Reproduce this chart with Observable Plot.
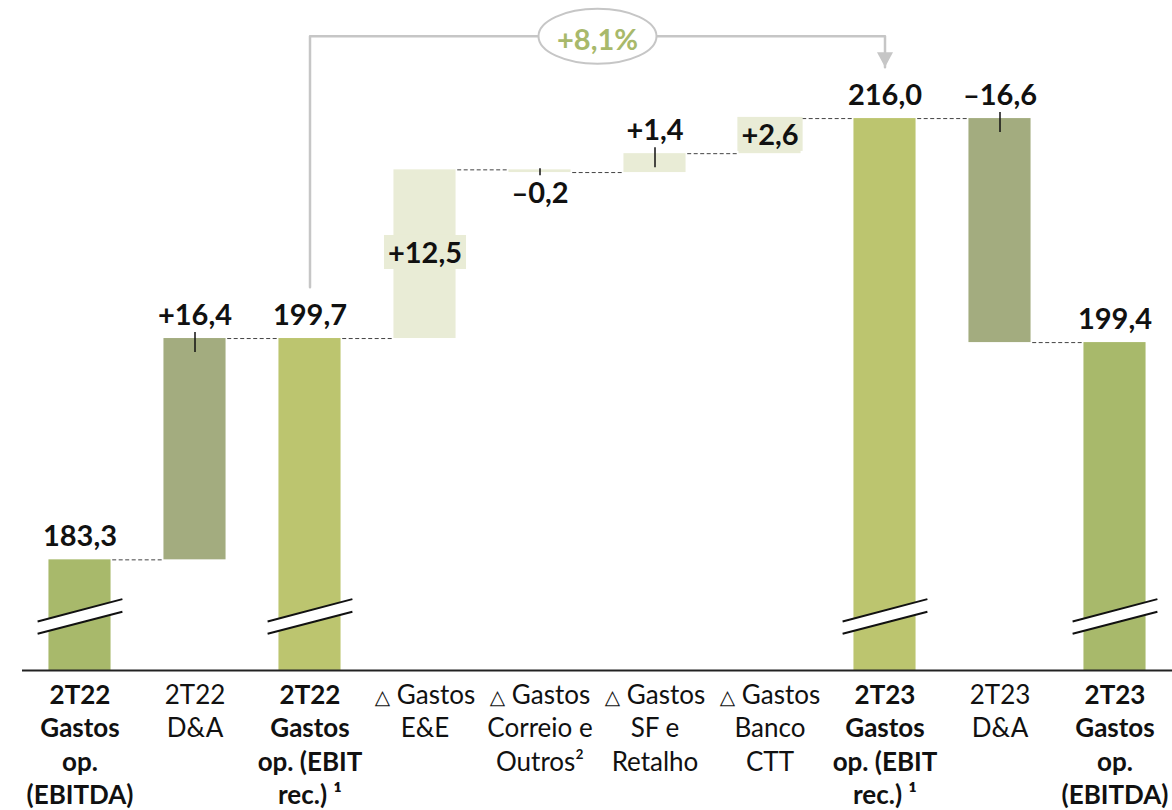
<!DOCTYPE html>
<html>
<head>
<meta charset="utf-8">
<script src="https://cdn.jsdelivr.net/npm/d3@7"></script>
<script src="https://cdn.jsdelivr.net/npm/@observablehq/plot@0.6"></script>
<style>
  html, body { margin: 0; padding: 0; background: #fff; }
  #chart svg { display: block; }
</style>
</head>
<body>
<div id="chart"></div>
<script>
// ---------- data ----------
const categories = [
  "2T22 Gastos op. (EBITDA)", "2T22 D&A", "2T22 Gastos op. (EBIT rec.)",
  "Δ Gastos E&E", "Δ Gastos Correio e Outros", "Δ Gastos SF e Retalho", "Δ Gastos Banco CTT",
  "2T23 Gastos op. (EBIT rec.)", "2T23 D&A", "2T23 Gastos op. (EBITDA)"
];
const tickLabels = [
  "2T22\nGastos\nop.\n(EBITDA)",
  "2T22\nD&A",
  "2T22\nGastos\nop. (EBIT\nrec.) ¹",
  "△ Gastos\nE&E",
  "△ Gastos\nCorreio e\nOutros²",
  "△ Gastos\nSF e\nRetalho",
  "△ Gastos\nBanco\nCTT",
  "2T23\nGastos\nop. (EBIT\nrec.) ¹",
  "2T23\nD&A",
  "2T23\nGastos\nop.\n(EBITDA)"
];
const values = [183.3, 16.4, 199.7, 12.5, -0.2, 1.4, 2.6, 216.0, -16.6, 199.4];
const kinds  = ["ebitda", "da", "ebit", "delta", "delta", "delta", "delta", "ebit", "da", "ebitda"];
const growthLabel = "+8,1%";

// ---------- presentation config ----------
const labelPlacement = ["above", "above", "above", "inside", "below", "above", "inside", "above", "above", "above"];
const colors = { ebitda: "#A8B96B", ebit: "#BCC56F", da: "#A3AC7F", delta: "#E9ECD6" };
const yDomain = [175.1, 224.75];
const axisBreakAt = 179.1;
const halfBar = 0.27;
const font = "Lato, 'Open Sans', sans-serif";
const grey = "#c6c6c6";
const valueSize = 29;

// ---------- waterfall ----------
let running = 0;
const rows = values.map((v, i) => {
  const k = kinds[i];
  const isTotal = k === "ebitda" || k === "ebit";
  const start = isTotal ? yDomain[0] : running;
  const end = isTotal ? v : running + v;
  running = end;
  return {
    i, k, v, isTotal, start, end,
    top: Math.max(start, end), bottom: Math.min(start, end),
    place: labelPlacement[i],
    label: isTotal ? v.toFixed(1).replace(".", ",")
                   : (v > 0 ? "+" : "–") + Math.abs(v).toFixed(1).replace(".", ",")
  };
});
const totals = rows.filter(d => d.isTotal);
const above = rows.filter(d => d.place === "above");
const below = rows.filter(d => d.place === "below");
const inside = rows.filter(d => d.place === "inside");
const tickedAbove = above.filter(d => !d.isTotal);

// annotation bracket between the two EBIT totals
const fromIdx = 2, toIdx = 7;
const bracketGap = 3.8;
const bracketY = Math.max(values[fromIdx], values[toIdx]) + 6.1;
const bracket = [
  { x: fromIdx, y: values[fromIdx] + bracketGap },
  { x: fromIdx, y: bracketY },
  { x: toIdx, y: bracketY },
  { x: toIdx, y: values[toIdx] + bracketGap }
];

// ---------- custom symbols ----------
const breakBand = { draw(ctx) {
  ctx.moveTo(-42.4, 4.9); ctx.lineTo(42.4, -17.4); ctx.lineTo(42.4, -4.8); ctx.lineTo(-42.4, 17.3); ctx.closePath();
}};
const breakLines = { draw(ctx) {
  ctx.moveTo(-42.4, 4.9); ctx.lineTo(42.4, -17.4);
  ctx.moveTo(-42.4, 17.3); ctx.lineTo(42.4, -4.8);
}};
const arrowDown = { draw(ctx) {
  ctx.moveTo(-8, -15); ctx.lineTo(8, -15); ctx.lineTo(0, 0); ctx.closePath();
}};
const ellipse = { draw(ctx) {
  const a = 59, b = 27.5, k = 0.5523;
  ctx.moveTo(a, 0);
  ctx.bezierCurveTo(a, b * k, a * k, b, 0, b);
  ctx.bezierCurveTo(-a * k, b, -a, b * k, -a, 0);
  ctx.bezierCurveTo(-a, -b * k, -a * k, -b, 0, -b);
  ctx.bezierCurveTo(a * k, -b, a, -b * k, a, 0);
  ctx.closePath();
}};

const axisCommon = {
  tickFormat: i => tickLabels[i], tickSize: 0, tickPadding: 10,
  fontSize: 26, lineHeight: 1.28, fill: "#111", fontFamily: font, label: null
};
const valueText = { fontSize: valueSize, fontWeight: "bold", fill: "#111", fontFamily: font };

const chart = Plot.plot({
  width: 1172, height: 810,
  marginTop: 0, marginRight: 0, marginBottom: 140, marginLeft: 22,
  style: { background: "#fff", fontFamily: font, overflow: "visible" },
  x: { domain: [-0.5, 9.5] },
  y: { domain: yDomain, axis: null },
  color: { type: "identity" },
  marks: [
    // bracket annotation
    Plot.line(bracket, { x: "x", y: "y", stroke: grey, strokeWidth: 2.5 }),
    Plot.dot([bracket[3]], { x: "x", y: "y", symbol: arrowDown, fill: grey, stroke: "none" }),
    Plot.dot([{ x: (fromIdx + toIdx) / 2, y: bracketY }], { x: "x", y: "y", symbol: ellipse, fill: "#fff", stroke: grey, strokeWidth: 2 }),
    Plot.text([growthLabel], { x: () => (fromIdx + toIdx) / 2, y: () => bracketY, text: d => d, dy: 4, lineAnchor: "middle",
      fontSize: 29, fontWeight: "bold", fill: colors.ebitda, fontFamily: font }),
    // connectors
    Plot.link(rows.slice(0, -1), { x1: d => d.i + halfBar + 0.01, x2: d => d.i + 1 - halfBar - 0.01, y1: "end", y2: "end",
      stroke: "#444", strokeWidth: 1, strokeDasharray: "4,2.5" }),
    // bars
    Plot.rect(rows, { x1: d => d.i - halfBar, x2: d => d.i + halfBar, y1: "start", y2: "end", fill: d => colors[d.k] }),
    // axis break marks
    Plot.dot(totals, { x: "i", y: () => axisBreakAt, symbol: breakBand, fill: "#fff", stroke: "none" }),
    Plot.dot(totals, { x: "i", y: () => axisBreakAt, symbol: breakLines, fill: "none", stroke: "#111", strokeWidth: 2 }),
    // baseline
    Plot.ruleY([yDomain[0]], { stroke: "#222", strokeWidth: 2 }),
    // label ticks
    Plot.ruleX(tickedAbove, { x: "i", y1: "top", y2: "top", insetTop: -6, insetBottom: -14, stroke: "#111", strokeWidth: 1.5 }),
    Plot.ruleX(below, { x: "i", y1: "top", y2: "top", insetTop: -1, insetBottom: -6, stroke: "#111", strokeWidth: 1.5 }),
    // value labels
    Plot.text(above, { x: "i", y: "top", text: "label", lineAnchor: "bottom", dy: -14, ...valueText }),
    Plot.text(below, { x: "i", y: "bottom", text: "label", lineAnchor: "top", dy: 10, ...valueText }),
    Plot.text(inside, { x: "i", y: d => (d.start + d.end) / 2, text: "label", lineAnchor: "middle", ...valueText }),
    // category axis
    Plot.axisX({ ...axisCommon, ticks: rows.filter(d => d.isTotal).map(d => d.i), fontWeight: "bold" }),
    Plot.axisX({ ...axisCommon, ticks: rows.filter(d => !d.isTotal).map(d => d.i), fontWeight: "normal" })
  ]
});

document.getElementById("chart").appendChild(chart);

// small outlined triangle before "Gastos"
d3.select(chart).selectAll("tspan").each(function () {
  const t = this.textContent;
  if (t.startsWith("△")) {
    this.textContent = "";
    d3.select(this).append("tspan").attr("font-size", 20).attr("font-family", "DejaVu Sans").text("△");
    d3.select(this).append("tspan").text(t.slice(1));
  }
});

// background boxes behind labels placed inside bars
const insideTexts = inside.map(d => d.label);
d3.select(chart).selectAll("text").filter(function () {
  return insideTexts.includes(this.textContent);
}).each(function () {
  const bb = this.getBBox();
  const cy = bb.y + bb.height / 2;
  const r = document.createElementNS("http://www.w3.org/2000/svg", "rect");
  r.setAttribute("x", bb.x - 4);
  r.setAttribute("y", cy - 17);
  r.setAttribute("width", bb.width + 8);
  r.setAttribute("height", 34);
  r.setAttribute("fill", colors.delta);
  if (this.getAttribute("transform")) r.setAttribute("transform", this.getAttribute("transform"));
  this.parentNode.insertBefore(r, this);
});
</script>
</body>
</html>
